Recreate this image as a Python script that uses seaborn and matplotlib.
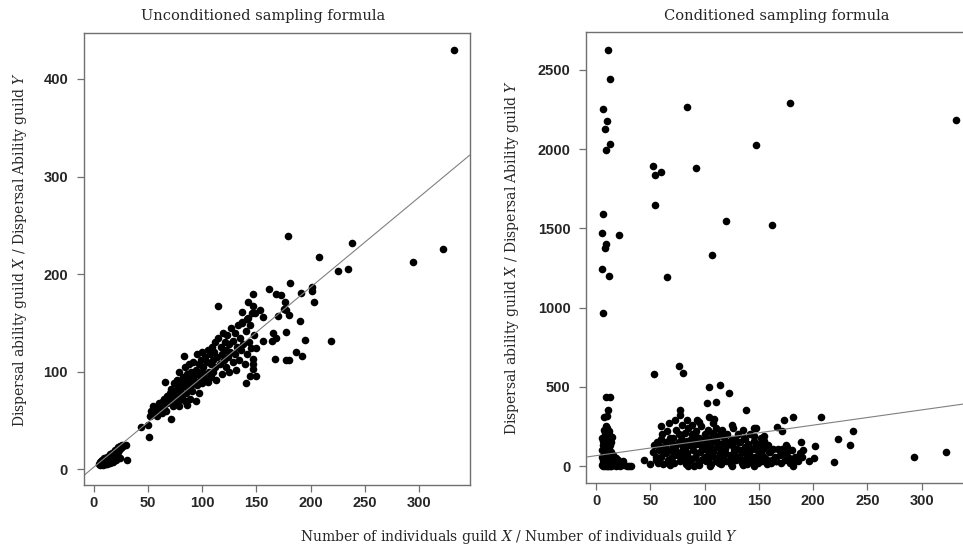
import matplotlib
matplotlib.use("Agg")
import matplotlib.pyplot as plt
import seaborn as sns
import pandas as pd

# unconditioned sampling formula (left panel)
unc_x = [5, 6, 6, 7, 7, 8, 8, 9, 9, 10, 10, 11, 11, 12, 12, 13, 13, 14, 14, 15,
         15, 16, 16, 17, 17, 18, 18, 19, 19, 20, 20, 21, 22, 22, 23, 24, 25, 26, 27, 30,
         31, 21, 24, 18, 12, 15,
         44, 50, 51, 52, 53, 55, 55, 57, 58, 60, 60, 62, 63, 64, 65, 65, 66, 67, 68, 68,
         70, 70, 71, 71, 72, 73, 74, 75, 75, 76, 77, 78, 78, 79, 79, 80, 80, 81, 82, 83,
         83, 84, 84, 85, 85, 86, 86, 87, 88, 88, 89, 90, 90, 91, 92, 92, 93, 94, 94, 95,
         95, 96, 97, 97, 98, 99, 100, 100, 100,
         101, 102, 103, 104, 105, 105, 106, 107, 108, 108, 109, 110, 110, 111, 112, 112, 113, 114, 115, 115,
         116, 117, 118, 118, 119, 120, 121, 122, 122, 123, 124, 125, 125, 126, 127, 128, 128, 130, 130, 131,
         132, 133, 134, 135, 136, 137, 138, 139, 140, 140, 141, 142, 143, 144, 145, 146, 148,
         147, 147, 142, 149, 137, 141, 137, 150, 147, 147, 150, 144, 147, 156, 156, 153, 164, 168, 165, 162,
         168, 173, 170, 177, 177, 175, 180, 180, 167, 177, 186, 192, 190, 195, 176, 181, 191, 201, 201, 203,
         208, 179, 219, 225, 234, 238, 294, 322, 332]
unc_y = [6, 4, 8, 5, 9, 6, 10, 4, 7, 8, 12, 6, 10, 9, 13, 7, 11, 14, 9, 12,
         16, 10, 14, 13, 17, 11, 15, 18, 13, 16, 20, 14, 18, 23, 20, 24, 22, 25, 24, 25,
         10, 10, 12, 8, 5, 7,
         43, 45, 33, 55, 60, 58, 65, 62, 55, 60, 68, 65, 58, 70, 66, 72, 90, 60, 75, 68,
         70, 78, 82, 52, 73, 65, 88, 80, 70, 76, 92, 84, 70, 100, 65, 80, 88, 75, 95, 85,
         116, 70, 105, 90, 78, 98, 66, 84, 92, 108, 72, 100, 86, 80, 95, 110, 90, 102, 70, 86,
         118, 98, 108, 78, 92, 112, 100, 88, 120,
         105, 95, 115, 110, 90, 122, 100, 118, 108, 95, 125, 112, 100, 120, 105, 130, 92, 115, 135, 167,
         108, 125, 98, 118, 140, 112, 130, 105, 122, 138, 115, 100, 128, 120, 145, 110, 132, 118, 140, 102,
         125, 148, 112, 135, 122, 150, 128, 108, 88, 142, 118, 155, 130, 148, 124, 160, 138,
         180, 167, 171, 160, 161, 154, 151, 124, 113, 108, 96, 96, 103, 131, 156, 163, 132, 135, 140, 185,
         180, 179, 157, 163, 141, 164, 158, 112, 113, 112, 120, 116, 152, 133, 171, 191, 181, 187, 183, 171,
         218, 239, 131, 203, 205, 232, 212, 226, 430]

# conditioned sampling formula (right panel)
con_x = [11, 13, 6, 10, 8, 13, 9, 84, 179, 332, 147, 52, 92, 54, 60, 54, 6, 5, 9, 8,
         21, 120, 162, 107, 5, 12, 65, 6,
         53, 76, 80, 104, 114, 122, 102, 110, 138, 9, 13, 11, 10, 7, 77, 104, 109, 73,
         77, 84, 93, 173, 181, 207, 167, 171, 237, 223, 234, 219, 293, 322, 202, 191, 189, 201, 196, 190,
         182, 181, 177, 176, 170, 166,
         5, 6, 7, 8, 9, 10, 11, 12, 13, 14, 15, 16, 18, 20, 22, 24, 26, 28, 30, 32,
         6, 7, 8, 9, 10, 11, 12, 9, 10, 8, 6, 5, 7, 9, 11, 12, 13, 14, 15, 16,
         17, 18, 20, 19, 14, 13, 15, 11, 10, 7, 5, 8,
         6, 7, 8, 9, 10, 11, 12, 8, 9, 10, 11, 12, 13, 7, 6, 5, 14, 16, 18, 22, 25, 10, 12, 9,
         44, 50, 52, 53, 55, 56, 57, 58, 60, 60, 61, 62, 63, 64, 65, 66, 67, 68, 69, 70,
         70, 71, 72, 73, 74, 75, 76, 77, 78, 78, 79, 80, 81, 82, 83, 84, 84, 85, 86, 87,
         88, 89, 90, 90, 91, 92, 93, 94, 95, 96, 97, 98, 99, 100, 100, 101, 102, 103, 104, 104,
         105, 106, 107, 108, 109, 110, 110, 111, 112, 113, 114, 115, 116, 117, 118, 119, 120, 121, 122, 123,
         124, 125, 126, 127, 128, 129, 130, 131, 132, 133, 134, 135, 136, 137, 138, 139, 140, 141, 142, 143,
         144, 145, 146, 147, 148, 149, 150, 151, 152, 153, 154, 155, 156, 157, 158, 160, 162, 165, 168, 170,
         172, 175, 178, 180,
         55, 58, 62, 64, 66, 68, 70, 72, 74, 76, 78, 80, 82, 85, 87, 89, 91, 93, 95, 97,
         99, 101, 103, 105, 107, 109, 111, 113, 115, 117, 119, 121, 123, 125, 127, 129, 131, 133, 135, 137,
         139, 141, 143, 145, 147, 149, 151, 153, 155, 157, 159, 161, 163, 166, 169, 171, 174, 176, 179, 183,
         186, 188, 60, 67, 88, 95, 108, 116, 125, 135, 145, 155, 85, 95, 105, 115, 125, 135, 145, 100, 110]
con_y = [2624, 2440, 2255, 2180, 2127, 2033, 1993, 2264, 2289, 2187, 2024, 1893, 1880, 1836, 1853, 1647, 1593, 1469, 1404, 1378,
         1456, 1549, 1520, 1331, 1244, 1200, 1193, 969,
         582, 633, 587, 498, 509, 464, 400, 407, 353, 433, 433, 351, 318, 311, 351, 307, 296, 289,
         322, 289, 289, 289, 307, 307, 244, 218, 224, 169, 133, 27, 56, 89, 129, 100, 151, 51, 33, 56,
         29, 0, 51, 118, 89, 29,
         5, 0, 10, 0, 5, 2, 0, 8, 3, 0, 12, 4, 0, 8, 2, 15, 5, 0, 3, 0,
         40, 70, 100, 130, 160, 190, 220, 250, 240, 210, 160, 180, 120, 80, 60, 110, 40, 90, 60, 30,
         50, 30, 40, 20, 150, 180, 185, 140, 200, 230, 100, 40,
         20, 50, 80, 110, 140, 170, 200, 150, 190, 220, 100, 60, 130, 180, 130, 60, 20, 70, 50, 20, 30, 30, 20, 60,
         40, 15, 90, 130, 40, 150, 20, 100, 170, 60, 200, 10, 120, 80, 220, 40, 160, 5, 100, 140,
         60, 180, 20, 110, 230, 70, 150, 30, 190, 90, 260, 120, 50, 210, 10, 160, 80, 240, 130, 40,
         200, 100, 170, 0, 60, 220, 140, 20, 180, 90, 250, 120, 50, 200, 150, 30, 100, 230, 170, 70,
         130, 10, 210, 90, 160, 50, 240, 120, 190, 20, 80, 220, 140, 60, 180, 110, 30, 200, 150, 70,
         10, 130, 240, 90, 170, 40, 110, 200, 60, 150, 20, 90, 180, 120, 50, 10, 140, 80, 200, 30,
         110, 160, 60, 240, 100, 20, 140, 70, 180, 30, 110, 160, 50, 10, 130, 90, 40, 60, 110, 20,
         80, 130, 50, 100,
         60, 130, 90, 150, 20, 180, 110, 70, 130, 200, 40, 160, 100, 60, 170, 130, 200, 80, 150, 40,
         110, 180, 140, 60, 100, 200, 150, 60, 110, 190, 80, 130, 40, 170, 110, 60, 150, 100, 40, 170,
         80, 120, 60, 190, 130, 40, 100, 70, 120, 40, 90, 20, 110, 30, 70, 110, 40, 90, 20, 60,
         30, 80, 250, 270, 260, 280, 270, 230, 260, 230, 240, 190, 0, 5, 0, 15, 0, 5, 0, 60, 30]

# fitted lines (intercept, slope)
unc_fit = [2.1, 0.923]
con_fit = [65.5, 0.963]

sns.set_style("white")
plt.rcParams['mathtext.fontset'] = 'dejavuserif'

unc = pd.DataFrame({'x': unc_x, 'y': unc_y})
con = pd.DataFrame({'x': con_x, 'y': con_y})

fig = plt.figure(figsize=(9.63, 5.52), dpi=100)
ax1 = fig.add_axes([0.0872, 0.1216, 0.4008, 0.8192])
ax2 = fig.add_axes([0.6090, 0.1259, 0.4008, 0.8156])

serif = 'DejaVu Serif'
panels = [(ax1, unc, unc_fit, 'Unconditioned sampling formula', [0, 100, 200, 300, 400], 0.464, -0.166, 0.52),
          (ax2, con, con_fit, 'Conditioned sampling formula', [0, 500, 1000, 1500, 2000, 2500], 0.4935, -0.194, 0.50)]
for ax, df, fit, title, yt, tx, lx, ly in panels:
    sns.scatterplot(data=df, x='x', y='y', ax=ax, color='black', s=30, linewidth=0)
    ax.axline((0, fit[0]), slope=fit[1], color='#808080', lw=0.8)
    ax.set_xticks([0, 50, 100, 150, 200, 250, 300])
    ax.set_yticks(yt)
    ax.set_xlabel('')
    ax.set_ylabel(r'Dispersal ability guild $X$ / Dispersal Ability guild $Y$',
                  family=serif, fontsize=10, va='center')
    ax.yaxis.set_label_coords(lx, ly)
    t = ax.set_title(title, family=serif, fontsize=10.5, pad=9)
    t.set_x(tx)
    for s in ax.spines.values():
        s.set_color('#707070')
        s.set_linewidth(1.0)
    ax.tick_params(direction='out', length=5, width=0.9, color='#707070',
                   labelsize=10.5, pad=3, left=True, bottom=True)
    ax.tick_params(axis='y', pad=6.5)
    for lab in ax.get_xticklabels() + ax.get_yticklabels():
        lab.set_fontfamily('Liberation Sans')
        lab.set_fontweight('bold')

ax1.set_xlim(-8.9, 346.7)
ax1.set_ylim(-15.9, 447.4)
ax2.set_xlim(-8.9, 346.7)
ax2.set_ylim(-104, 2738)

fig.text(0.5395, 0.028, r'Number of individuals guild $X$ / Number of individuals guild $Y$',
         family=serif, fontsize=10, ha='center', va='center')

fig.savefig('out.png', dpi=100)
